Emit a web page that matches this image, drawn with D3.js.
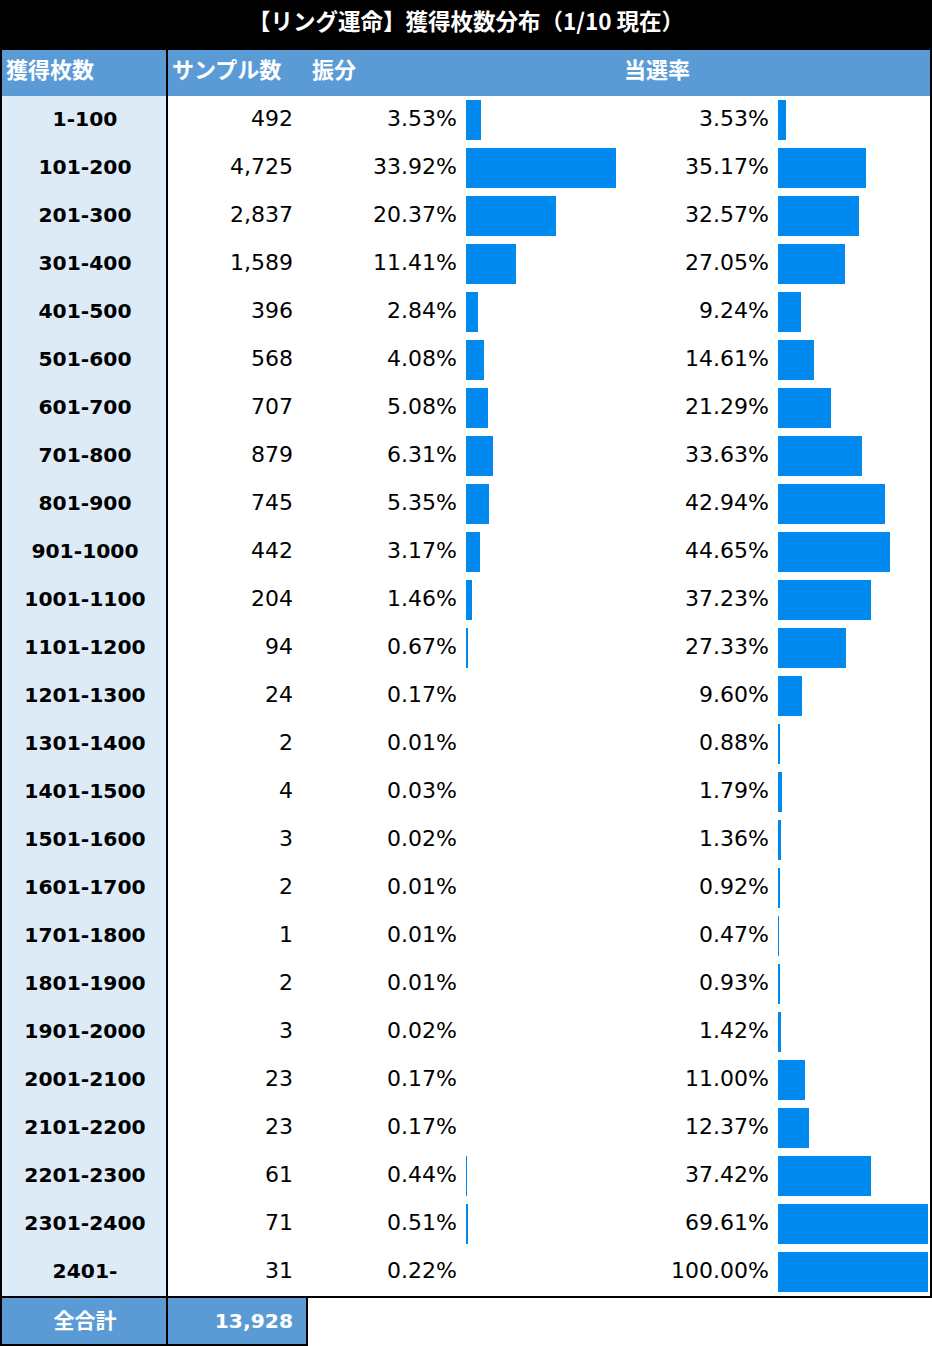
<!DOCTYPE html>
<html>
<head>
<meta charset="utf-8">
<script src="https://cdn.jsdelivr.net/npm/d3@7"></script>
<style>
  body { margin: 0; background: #fff; }
  .num { font-family: "DejaVu Sans", Verdana, sans-serif; font-size: 22px; fill: #000; }
  .lab { font-family: "DejaVu Sans", Verdana, sans-serif; font-size: 20.3px; font-weight: bold; fill: #000; }
  .jp { font-family: "Noto Sans CJK JP", sans-serif; font-weight: bold; fill: #fff; }
</style>
</head>
<body>
<div class="chart"></div>
<script>
var title = "【リング運命】獲得枚数分布（1/10 現在）";
var headers = ["獲得枚数", "サンプル数", "振分", "当選率"];
var ranges = ["1-100", "101-200", "201-300", "301-400", "401-500", "501-600", "601-700",
  "701-800", "801-900", "901-1000", "1001-1100", "1101-1200", "1201-1300", "1301-1400",
  "1401-1500", "1501-1600", "1601-1700", "1701-1800", "1801-1900", "1901-2000",
  "2001-2100", "2101-2200", "2201-2300", "2301-2400", "2401-"];
var samples = [492, 4725, 2837, 1589, 396, 568, 707, 879, 745, 442, 204, 94, 24, 2,
  4, 3, 2, 1, 2, 3, 23, 23, 61, 71, 31];
var shares = [3.53, 33.92, 20.37, 11.41, 2.84, 4.08, 5.08, 6.31, 5.35, 3.17, 1.46, 0.67,
  0.17, 0.01, 0.03, 0.02, 0.01, 0.01, 0.01, 0.02, 0.17, 0.17, 0.44, 0.51, 0.22];
var winRates = [3.53, 35.17, 32.57, 27.05, 9.24, 14.61, 21.29, 33.63, 42.94, 44.65, 37.23,
  27.33, 9.60, 0.88, 1.79, 1.36, 0.92, 0.47, 0.93, 1.42, 11.00, 12.37, 37.42, 69.61, 100.00];
var totalLabel = "全合計";
var total = 13928;

var W = 932, H = 1346;
var rows = ranges.map((r, i) => ({ range: r, sample: samples[i], share: shares[i], win: winRates[i] }));

var y = d3.scaleBand().domain(ranges).range([96, 1296]);
var xShare = d3.scaleLinear().domain([0, d3.max(shares)]).range([0, 150]);
var xWin = d3.scaleLinear().domain([0, 59.76]).range([0, 150]).clamp(true);
var fmtInt = d3.format(",");
var fmtPct = v => d3.format(".2f")(v) + "%";
var mid = d => y(d.range) + y.bandwidth() / 2;

var svg = d3.select(".chart").append("svg")
  .attr("width", W)
  .attr("height", H);

// title bar
svg.append("rect").attr("width", W).attr("height", 50).attr("fill", "#000");
svg.append("text").attr("class", "jp")
  .attr("x", 466).attr("y", 30).attr("text-anchor", "middle")
  .style("font-size", "22.5px")
  .text(title);

// header
svg.append("rect").attr("x", 0).attr("y", 50).attr("width", W).attr("height", 46).attr("fill", "#5b9bd5");
var headX = [6, 172, 312, 624];
svg.selectAll(".head").data(headers).enter().append("text")
  .attr("class", "jp head")
  .attr("x", (d, i) => headX[i]).attr("y", 78)
  .style("font-size", "22px")
  .text(d => d);

// body
svg.append("rect").attr("x", 0).attr("y", 96).attr("width", 167).attr("height", 1200).attr("fill", "#ddebf7");

svg.selectAll(".lab").data(rows).enter().append("text")
  .attr("class", "lab")
  .attr("x", 85).attr("y", d => mid(d) + 6)
  .attr("text-anchor", "middle")
  .text(d => d.range);

svg.selectAll(".sample").data(rows).enter().append("text")
  .attr("class", "num sample")
  .attr("x", 293).attr("y", d => mid(d) + 6)
  .attr("text-anchor", "end")
  .text(d => fmtInt(d.sample));

svg.selectAll(".share").data(rows).enter().append("text")
  .attr("class", "num share")
  .attr("x", 457).attr("y", d => mid(d) + 6)
  .attr("text-anchor", "end")
  .text(d => fmtPct(d.share));

svg.selectAll(".shareBar").data(rows).enter().append("rect")
  .attr("class", "shareBar")
  .attr("x", 466).attr("y", d => y(d.range) + 4)
  .attr("width", d => Math.floor(xShare(d.share)))
  .attr("height", y.bandwidth() - 8)
  .attr("fill", "#008aef");

svg.selectAll(".win").data(rows).enter().append("text")
  .attr("class", "num win")
  .attr("x", 769).attr("y", d => mid(d) + 6)
  .attr("text-anchor", "end")
  .text(d => fmtPct(d.win));

svg.selectAll(".winBar").data(rows).enter().append("rect")
  .attr("class", "winBar")
  .attr("x", 778).attr("y", d => y(d.range) + 4)
  .attr("width", d => Math.floor(xWin(d.win)))
  .attr("height", y.bandwidth() - 8)
  .attr("fill", "#008aef");

// total row
svg.append("rect").attr("x", 0).attr("y", 1297).attr("width", 307).attr("height", 48).attr("fill", "#5b9bd5");
svg.append("text").attr("class", "jp")
  .attr("x", 85).attr("y", 1328).attr("text-anchor", "middle")
  .style("font-size", "21px")
  .text(totalLabel);
svg.append("text").attr("class", "lab")
  .attr("x", 293).attr("y", 1328).attr("text-anchor", "end")
  .style("fill", "#fff")
  .text(fmtInt(total));

// borders
var line = (x1, y1, x2, y2) => svg.append("line")
  .attr("x1", x1).attr("y1", y1).attr("x2", x2).attr("y2", y2)
  .attr("stroke", "#000").attr("stroke-width", 2);
line(1, 50, 1, 1346);
line(931, 50, 931, 1298);
line(167, 50, 167, 1346);
line(0, 1297, 932, 1297);
line(0, 1345, 308, 1345);
line(307, 1297, 307, 1346);
</script>
</body>
</html>
